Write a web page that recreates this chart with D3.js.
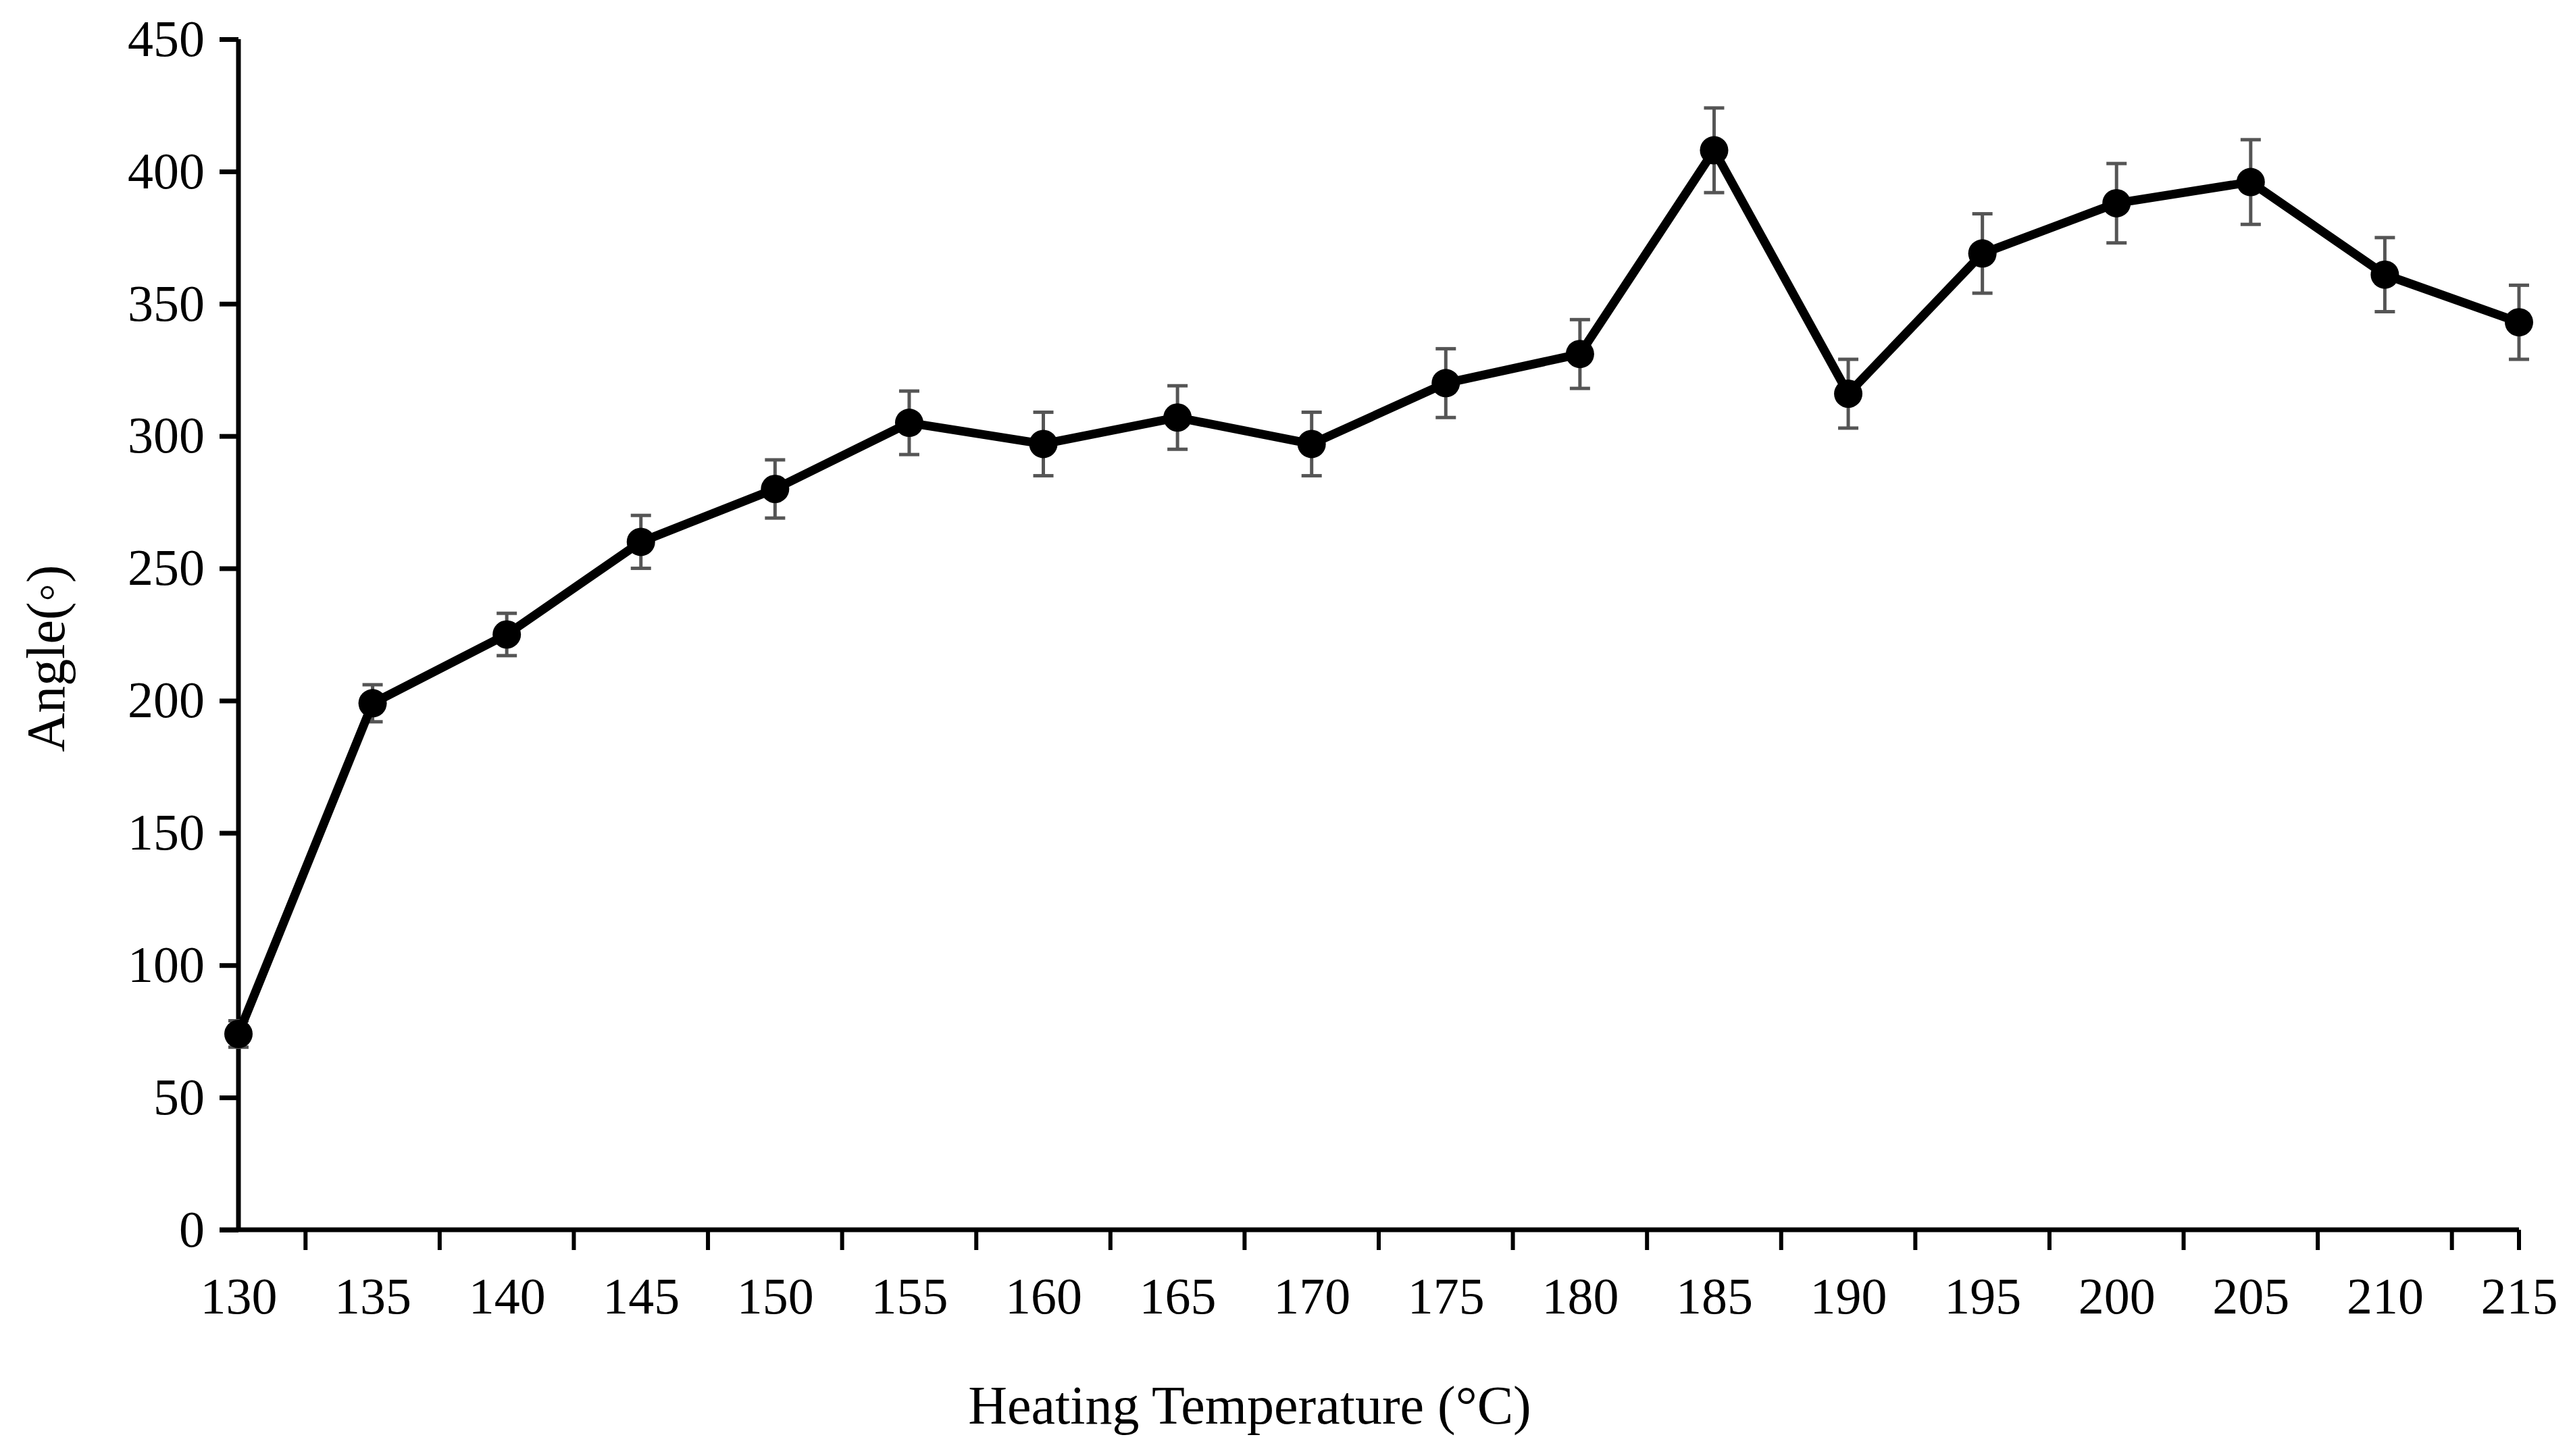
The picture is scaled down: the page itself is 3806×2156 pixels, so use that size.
<!DOCTYPE html><html><head><meta charset="utf-8">
<script src="https://cdn.jsdelivr.net/npm/d3@7"></script>
<style>body{margin:0;background:#fff}</style></head><body>
<svg id="c" width="3806" height="2156"></svg>
<script>
const temps=[130,135,140,145,150,155,160,165,170,175,180,185,190,195,200,205,210,215];
const angles=[74,199,225,260,280,305,297,307,297,320,331,408,316,369,388,396,361,343];
const errs=[5,7,8,10,11,12,12,12,12,13,13,16,13,15,15,16,14,14];
const yTicks=[0,50,100,150,200,250,300,350,400,450];
const svg=d3.select("#c");
const x=d3.scaleLinear().domain([130,215]).range([353,3729]);
const y=d3.scaleLinear().domain([0,450]).range([1821,58]);
const font="'Liberation Serif','Times New Roman',serif";
// y axis
const ya=svg.append("g").attr("transform","translate(353,0)").call(d3.axisLeft(y).tickValues(yTicks).tickSize(28).tickPadding(22));
ya.select(".domain").attr("stroke-width",7).attr("d",`M0,${y(0)}V${y(450)}`);
ya.selectAll(".tick line").attr("stroke-width",7);
ya.selectAll("text").attr("font-family",font).attr("font-size",76).attr("fill","#000");
// x axis
const xa=svg.append("g").attr("transform",`translate(0,${y(0)})`).call(d3.axisBottom(x).tickValues(temps).tickSize(0).tickPadding(70));
xa.select(".domain").attr("stroke-width",7).attr("d",`M${353-28},0H3729`);
xa.selectAll("text").attr("font-family",font).attr("font-size",76).attr("fill","#000");
const mids=temps.slice(0,-1).map(t=>t+2.5).concat([215]);
svg.append("g").selectAll("line").data(mids).join("line")
 .attr("x1",d=>x(d)).attr("x2",d=>x(d)).attr("y1",y(0)).attr("y2",y(0)+30).attr("stroke","#000").attr("stroke-width",6);
// error bars
const eb=svg.append("g").attr("stroke","#555").attr("stroke-width",5);
temps.forEach((t,i)=>{
 eb.append("line").attr("x1",x(t)).attr("x2",x(t)).attr("y1",y(angles[i]-errs[i])).attr("y2",y(angles[i]+errs[i]));
 [angles[i]-errs[i],angles[i]+errs[i]].forEach(v=>eb.append("line").attr("x1",x(t)-15).attr("x2",x(t)+15).attr("y1",y(v)).attr("y2",y(v)));
});
svg.append("path").datum(temps.map((t,i)=>[t,angles[i]]))
 .attr("d",d3.line().x(d=>x(d[0])).y(d=>y(d[1]))).attr("fill","none").attr("stroke","#000").attr("stroke-width",13).attr("stroke-linejoin","round");
svg.append("g").selectAll("circle").data(temps).join("circle")
 .attr("cx",d=>x(d)).attr("cy",(d,i)=>y(angles[i])).attr("r",21).attr("fill","#000");
svg.append("text").attr("x",1850).attr("y",2108).attr("text-anchor","middle").attr("font-family",font).attr("font-size",80).text("Heating Temperature (°C)");
svg.append("text").attr("transform","translate(95,975) rotate(-90)").attr("text-anchor","middle").attr("font-family",font).attr("font-size",80).text("Angle(◦)");
</script></body></html>
